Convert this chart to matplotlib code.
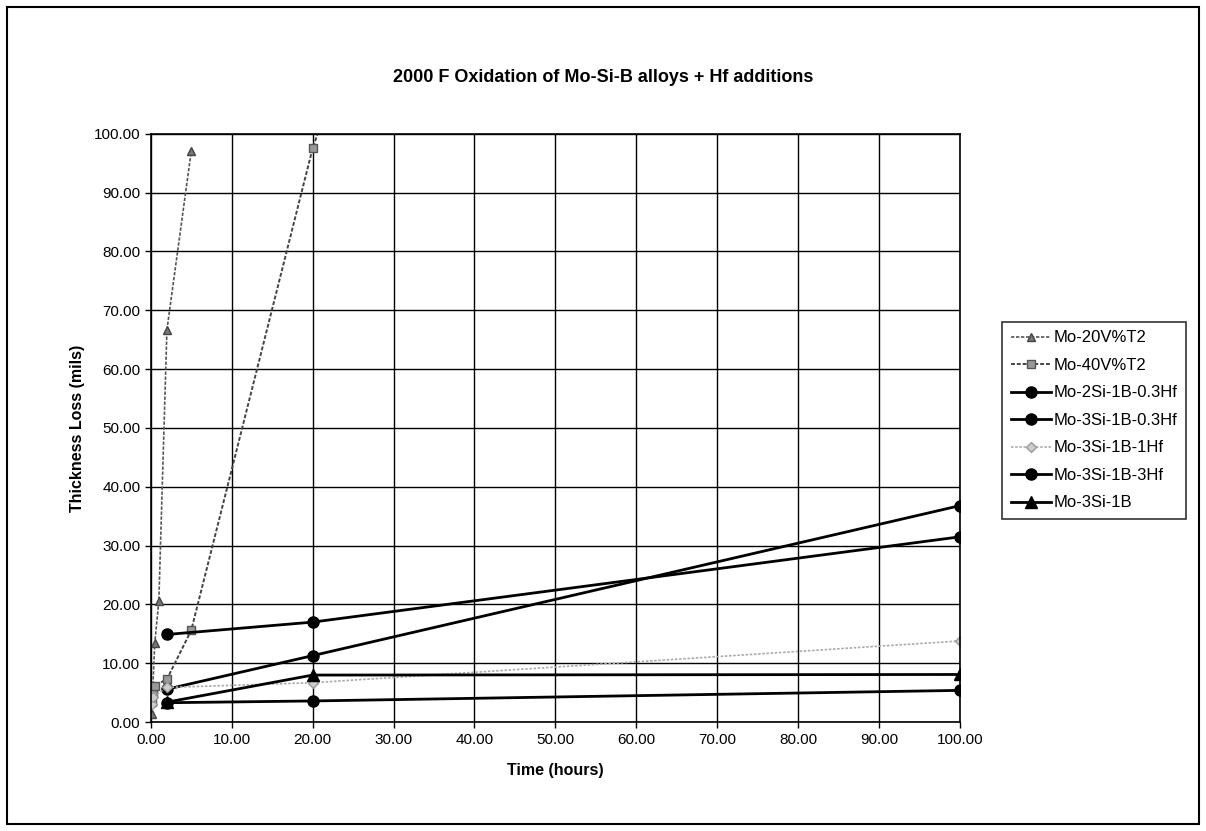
import matplotlib
matplotlib.use("Agg")
import matplotlib.pyplot as plt
from matplotlib.patches import Rectangle
from matplotlib.ticker import FormatStrFormatter, MultipleLocator

plt.rcParams["font.family"] = ["Liberation Sans", "DejaVu Sans"]

# data (time in hours, thickness loss in mils)
t_20v = [0.1, 0.5, 1.0, 2.0, 5.0]
y_20v = [1.3, 13.5, 20.6, 66.7, 97.0]

t_40v = [0.1, 0.3, 0.5, 2.0, 5.0, 20.0, 100.0]
y_40v = [3.5, 5.0, 6.2, 7.3, 15.6, 97.5, 420.0]

t_hf = [2.0, 20.0, 100.0]
y_2si_03hf = [5.6, 11.3, 36.8]
y_3si_03hf = [14.9, 17.0, 31.5]
y_3si_3hf = [3.3, 3.6, 5.4]

t_1hf = [0.1, 0.3, 2.0, 20.0, 100.0]
y_1hf = [3.0, 4.3, 5.9, 6.7, 13.8]

t_base = [2.0, 20.0, 100.0]
y_base = [3.4, 8.0, 8.1]

labels = ["Mo-20V%T2", "Mo-40V%T2", "Mo-2Si-1B-0.3Hf", "Mo-3Si-1B-0.3Hf",
          "Mo-3Si-1B-1Hf", "Mo-3Si-1B-3Hf", "Mo-3Si-1B"]

fig = plt.figure(figsize=(12.06, 8.31), dpi=100)
ax = fig.add_axes([0.125, 0.131, 0.671, 0.708])

ax.plot(t_20v, y_20v, color="#555555", lw=1.2, ls=(0, (2, 1)), marker="^", ms=6,
        mfc="#777777", mec="#444444", label=labels[0])
ax.plot(t_40v, y_40v, color="#444444", lw=1.4, ls=(0, (2, 1)), marker="s", ms=6,
        mfc="#999999", mec="#555555", label=labels[1])
ax.plot(t_hf, y_2si_03hf, color="black", lw=2, marker="o", ms=8, label=labels[2])
ax.plot(t_hf, y_3si_03hf, color="black", lw=2, marker="o", ms=8, label=labels[3])
ax.plot(t_1hf, y_1hf, color="#aaaaaa", lw=1.2, ls=(0, (1.5, 1)), marker="D", ms=5,
        mfc="#cccccc", mec="#999999", label=labels[4])
ax.plot(t_hf, y_3si_3hf, color="black", lw=2, marker="o", ms=8, label=labels[5])
ax.plot(t_base, y_base, color="black", lw=2, marker="^", ms=8, label=labels[6])

ax.set_xlim(0, 100)
ax.set_ylim(0, 100)
ax.xaxis.set_major_locator(MultipleLocator(10))
ax.yaxis.set_major_locator(MultipleLocator(10))
ax.xaxis.set_major_formatter(FormatStrFormatter("%.2f"))
ax.yaxis.set_major_formatter(FormatStrFormatter("%.2f"))
ax.grid(True, color="black", lw=1)
ax.set_axisbelow(True)
ax.tick_params(direction="out", length=4, width=1, labelsize=11, colors="black")
for sp in ax.spines.values():
    sp.set_linewidth(1.2)

ax.set_xlabel("Time (hours)", fontsize=11.5, fontweight="bold", labelpad=12)
ax.set_ylabel("Thickness Loss (mils)", fontsize=11.5, fontweight="bold", labelpad=6)
fig.text(0.5, 1 - 78 / 831, "2000 F Oxidation of Mo-Si-B alloys + Hf additions",
         ha="center", va="center", fontsize=13, fontweight="bold")

leg = fig.legend(loc="upper left", bbox_to_anchor=(0.831, 1 - 322 / 831),
                 fontsize=12, frameon=True, fancybox=False, edgecolor="black",
                 handlelength=2.4, handletextpad=0.2, labelspacing=0.75,
                 borderpad=0.5, borderaxespad=0)
leg.get_frame().set_linewidth(1.2)

# outer chart border
fig.patches.append(Rectangle((0.006, 0.008), 0.988, 0.984, transform=fig.transFigure,
                             fill=False, edgecolor="black", lw=1.5))

fig.savefig("out.png", dpi=100)
